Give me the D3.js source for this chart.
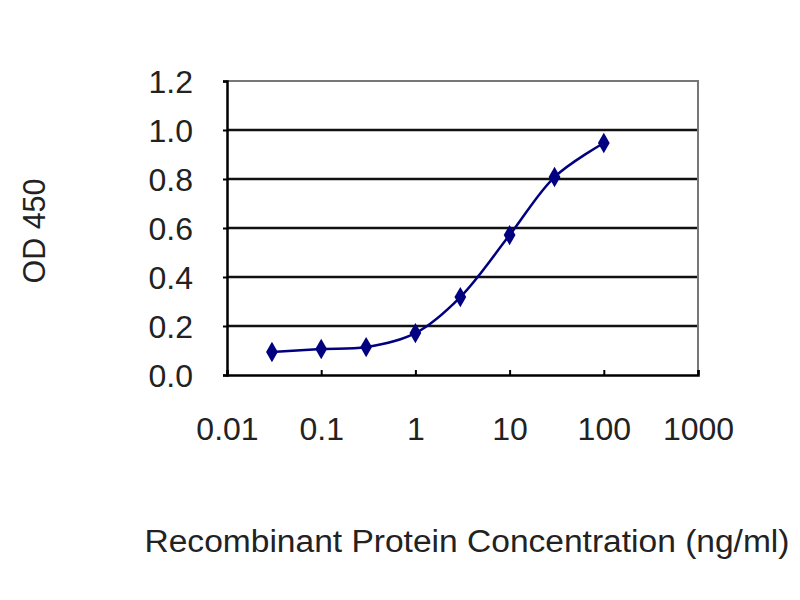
<!DOCTYPE html>
<html><head><meta charset="utf-8">
<script src="https://cdn.jsdelivr.net/npm/d3@7"></script>
<style>body{margin:0;background:#fff}svg{display:block}text{font-family:"Liberation Sans",Arial,sans-serif;fill:#222}</style>
</head><body>
<script>
const concentrations = [0.03, 0.1, 0.3, 1, 3, 10, 30, 100];
const od450 = [0.094, 0.106, 0.114, 0.171, 0.318, 0.571, 0.808, 0.947];
const xTickValues = [0.01, 0.1, 1, 10, 100, 1000];
const xTickLabels = ["0.01", "0.1", "1", "10", "100", "1000"];
const yTickValues = [0, 0.2, 0.4, 0.6, 0.8, 1.0, 1.2];
const yTickLabels = ["0.0", "0.2", "0.4", "0.6", "0.8", "1.0", "1.2"];

const W = 800, H = 600;
const L = 227, R = 698, T = 81, B = 375;
const svg = d3.select("body").append("svg").attr("width", W).attr("height", H);
const x = d3.scaleLog().domain([0.01, 1000]).range([L, R]);
const y = d3.scaleLinear().domain([0, 1.2]).range([B, T]);

svg.append("g").selectAll("line").data(yTickValues.filter(v => v > 0 && v < 1.2)).join("line")
  .attr("x1", L).attr("x2", R).attr("y1", d => y(d)).attr("y2", d => y(d))
  .attr("stroke", "#111").attr("stroke-width", 2.5);
svg.append("path").attr("d", `M${L},${T}H${R}V${B}`).attr("fill", "none")
  .attr("stroke", "#777").attr("stroke-width", 2);

const yAxis = d3.axisLeft(y).tickValues(yTickValues).tickFormat((d, i) => yTickLabels[i]).tickSize(4).tickPadding(30);
const gy = svg.append("g").attr("transform", `translate(${L},0)`).call(yAxis);
gy.select(".domain").attr("stroke", "#000").attr("stroke-width", 2.5);
gy.selectAll(".tick line").attr("stroke", "#000").attr("stroke-width", 2);
gy.selectAll(".tick text").attr("font-size", 32).attr("fill", "#222").attr("dy", "0.35em")
  .style("font-family", '"Liberation Sans",Arial,sans-serif');

const xAxis = d3.axisBottom(x).tickValues(xTickValues).tickFormat((d, i) => xTickLabels[i]).tickSize(-5).tickPadding(0);
const gx = svg.append("g").attr("transform", `translate(0,${B})`).call(xAxis);
gx.select(".domain").attr("stroke", "#000").attr("stroke-width", 2.5);
gx.selectAll(".tick line").attr("stroke", "#000").attr("stroke-width", 2);
gx.selectAll(".tick text").attr("font-size", 32).attr("fill", "#222").attr("y", 65).attr("dy", "0")
  .style("font-family", '"Liberation Sans",Arial,sans-serif');

const pts = concentrations.map((c, i) => [c, od450[i]]);
svg.append("path").datum(pts)
  .attr("d", d3.line().x(d => x(d[0])).y(d => y(d[1])).curve(d3.curveCatmullRom.alpha(0.5)))
  .attr("fill", "none").attr("stroke", "#000080").attr("stroke-width", 2.5);
svg.append("g").selectAll("path").data(pts).join("path")
  .attr("transform", d => `translate(${x(d[0])},${y(d[1])})`)
  .attr("d", d3.symbol().type(d3.symbolDiamond).size(120))
  .attr("fill", "#000080");

svg.append("text").attr("transform", "translate(45,231) rotate(-90)").attr("text-anchor", "middle")
  .attr("font-size", 31).attr("textLength", 105).attr("lengthAdjust", "spacingAndGlyphs").text("OD 450");
svg.append("text").attr("x", 467).attr("y", 552).attr("text-anchor", "middle")
  .attr("font-size", 31).attr("textLength", 645).attr("lengthAdjust", "spacingAndGlyphs")
  .text("Recombinant Protein Concentration (ng/ml)");
</script>
</body></html>
